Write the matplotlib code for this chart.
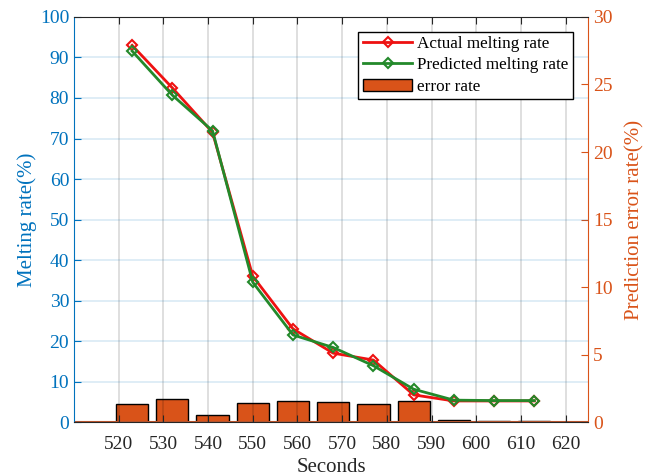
import matplotlib
matplotlib.use('Agg')
import matplotlib.pyplot as plt
import numpy as np

plt.rcParams['font.family'] = ['Liberation Serif', 'DejaVu Serif']
plt.rcParams['mathtext.fontset'] = 'stix'

# data
seconds = [523, 532, 541, 550, 559, 568, 577, 586, 595, 604, 613]
actual = [93.0, 82.5, 71.5, 36.0, 23.0, 17.0, 15.3, 6.7, 5.2, 5.2, 5.2]
predicted = [91.6, 80.7, 71.9, 34.5, 21.5, 18.4, 13.9, 8.1, 5.4, 5.3, 5.3]
error_rate = [1.31, 1.68, 0.49, 1.38, 1.58, 1.51, 1.31, 1.58, 0.17, 0.05, 0.05]
xticks = [520, 530, 540, 550, 560, 570, 580, 590, 600, 610, 620]

blue = '#0072BD'
orange = '#D95319'
dark = '#262626'

fig = plt.figure(figsize=(6.52, 4.76), dpi=100)
ax1 = fig.add_axes([0.1135, 0.1134, 0.7883, 0.8509])
ax2 = ax1.twinx()

# bars on the right axis
bars = ax2.bar(seconds, error_rate, width=7.2, color=orange, edgecolor='k',
               linewidth=1.0, label='error rate', zorder=2)
ax2.axhline(0, color=orange, linewidth=1.5, zorder=3)
ax2.set_ylim(0, 30)
ax2.set_yticks([0, 5, 10, 15, 20, 25, 30])
ax2.set_ylabel('Prediction error rate(%)', color=orange, fontsize=15, labelpad=9)
ax2.tick_params(axis='y', colors=orange, direction='in', labelsize=14, length=5)
ax2.spines['right'].set_color(orange)
for s in ['left', 'top', 'bottom']:
    ax2.spines[s].set_visible(False)

# lines on the left axis, drawn above the bars
ax1.set_zorder(ax2.get_zorder() + 1)
ax1.patch.set_visible(False)
l1, = ax1.plot(seconds, actual, color='#EE1111', marker='D', markersize=5.5,
               markerfacecolor='none', markeredgewidth=1.5, linewidth=2.0,
               label='Actual melting rate')
l2, = ax1.plot(seconds, predicted, color='#23892A', marker='D', markersize=5.5,
               markerfacecolor='none', markeredgewidth=1.5, linewidth=2.0,
               label='Predicted melting rate')

ax1.set_xlim(510, 625)
ax1.set_ylim(0, 100)
ax1.set_xticks(xticks)
ax1.set_yticks(np.arange(0, 101, 10))
ax1.set_xlabel('Seconds', color=dark, fontsize=15, labelpad=4)
ax1.set_ylabel('Melting rate(%)', color=blue, fontsize=15, labelpad=2)
ax1.tick_params(axis='y', colors=blue, direction='in', labelsize=14, length=5)
ax1.tick_params(axis='x', colors=dark, direction='in', labelsize=14, length=5,
                top=True, pad=10)
ax1.spines['left'].set_color(blue)
ax1.spines['top'].set_color(dark)
ax1.spines['bottom'].set_color(dark)
ax1.spines['right'].set_visible(False)

ax1.grid(axis='x', color='k', alpha=0.15, linewidth=1.2)
ax1.grid(axis='y', color=blue, alpha=0.15, linewidth=1.2)

leg = ax1.legend(handles=[l1, l2, bars], loc='upper right',
                 bbox_to_anchor=(0.971, 0.963), fontsize=12.3, frameon=True,
                 fancybox=False, edgecolor='k', framealpha=1,
                 handlelength=2.9, borderpad=0.25, labelspacing=0.3,
                 handletextpad=0.3, borderaxespad=0.0)
leg.get_frame().set_linewidth(1.0)

fig.savefig('out.png', dpi=100)
